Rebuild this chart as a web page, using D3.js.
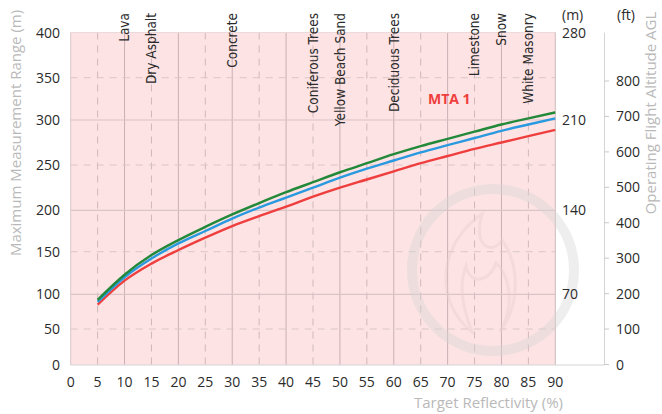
<!DOCTYPE html>
<html>
<head>
<meta charset="utf-8">
<script src="https://cdn.jsdelivr.net/npm/d3@7/dist/d3.min.js"></script>
<style>
  html, body { margin: 0; padding: 0; background: #fff; }
  svg { display: block; font-family: "Open Sans", "DejaVu Sans", sans-serif; }
</style>
</head>
<body>
<svg id="chart" width="662" height="414"></svg>
<script>
// reflectivity (%) sampled every 5
const reflectivity = [5, 10, 15, 20, 25, 30, 35, 40, 45, 50, 55, 60, 65, 70, 75, 80, 85, 90];

// range curves (m)
const rangeGreen = [92, 123, 146, 164, 180, 195, 208, 220, 231, 242, 252, 262, 271, 279, 287, 295, 302, 309];
const rangeBlue  = [89, 120, 142, 160, 175, 190, 203, 214, 225, 236, 246, 255, 264, 272, 280, 288, 295, 302];
const rangeRed   = [85, 116, 136, 152, 167, 181, 193, 204, 215, 225, 234, 243, 252, 260, 268, 275, 282, 289];

// materials marked along the top
const materialNames = ["Lava", "Dry Asphalt", "Concrete", "Coniferous Trees", "Yellow Beach Sand",
  "Deciduous Trees", "Limestone", "Snow", "White Masonry"];
const materialRefl = [10, 15, 30, 45, 50, 60, 75, 80, 85];

// tick labels
const xTicks = d3.range(0, 95, 5);
const yTicks = [0, 50, 100, 150, 200, 250, 300, 350, 400];
const mTicks = [70, 140, 210, 280];
const ftTicks = [0, 100, 200, 300, 400, 500, 600, 700, 800];

const svg = d3.select("#chart");

const x = d3.scaleLinear().domain([0, 90]).range([70.7, 555.3]);
// the original grid is not evenly spaced, so the left scale is piecewise
const y = d3.scaleLinear()
  .domain(yTicks)
  .range([365, 329, 294.3, 251.7, 210.3, 165, 120, 77.7, 32.5]);
const yM = d3.scaleLinear().domain(yTicks.map(v => v * 0.7)).range(y.range());
const yFt = d3.scaleLinear().domain([0, 800]).range([364.5, 81]);

const textDark = "#2b2b2b";
const textGray = "#b9b9b9";

// pink plot background
svg.append("rect")
  .attr("x", x(0)).attr("y", y(400))
  .attr("width", x(90) - x(0)).attr("height", y(0) - y(400))
  .attr("fill", "#fde3e3");

// grid
const grid = svg.append("g");
xTicks.filter(v => v > 0 && v < 90).forEach(v => {
  const solid = v % 10 === 0;
  grid.append("line")
    .attr("x1", x(v)).attr("x2", x(v))
    .attr("y1", y(400)).attr("y2", y(0))
    .attr("stroke", solid ? "#cbb0b5" : "#d0b8bb")
    .attr("stroke-width", 1)
    .attr("stroke-dasharray", solid ? null : "7,6");
});
yTicks.filter(v => v > 0).forEach(v => {
  const solid = v % 100 === 0;
  grid.append("line")
    .attr("x1", x(0)).attr("x2", x(90))
    .attr("y1", y(v)).attr("y2", y(v))
    .attr("stroke", v === 400 ? "#eadadc" : (solid ? "#dac4c7" : "#dac6c8"))
    .attr("stroke-width", solid ? 1.2 : 1)
    .attr("stroke-dasharray", solid ? null : "7,6");
});

// frame
svg.append("line").attr("x1", x(0)).attr("x2", x(0)).attr("y1", y(400)).attr("y2", y(0))
  .attr("stroke", "#d8c8ca");
svg.append("line").attr("x1", x(90)).attr("x2", x(90)).attr("y1", y(400)).attr("y2", y(0))
  .attr("stroke", "#cdb9bc");
svg.append("line").attr("x1", x(0)).attr("x2", 604.5).attr("y1", y(0)).attr("y2", y(0))
  .attr("stroke", "#d4d4d4");

// watermark ring
const mark = svg.append("g").attr("opacity", 0.4);
mark.append("circle")
  .attr("cx", 493).attr("cy", 270).attr("r", 81)
  .attr("fill", "none").attr("stroke", "#d6d6d6").attr("stroke-width", 10);
mark.append("path")
  .attr("d", "M472,332 C432,300 440,242 482,214 C472,246 492,256 502,240 C518,262 522,302 500,332 C518,300 506,272 496,263 C490,282 470,286 466,266 C456,292 468,320 472,332 Z")
  .attr("fill", "none").attr("stroke", "#ebcfd1").attr("stroke-width", 3);

// curves
const line = d3.line()
  .x((d, i) => x(reflectivity[i]))
  .y(d => y(d))
  .curve(d3.curveMonotoneX);

[[rangeRed, "#ef3e3e"], [rangeBlue, "#2a9ae0"], [rangeGreen, "#23893a"]].forEach(([vals, col]) => {
  svg.append("path")
    .datum(vals)
    .attr("d", line)
    .attr("fill", "none")
    .attr("stroke", col)
    .attr("stroke-width", 2.4);
});

// left axis labels
svg.append("g").selectAll("text")
  .data(yTicks).join("text")
  .attr("x", 60).attr("y", d => y(d))
  .attr("dy", "0.36em")
  .attr("text-anchor", "end")
  .attr("font-size", 14)
  .attr("fill", textDark)
  .text(d => d);

// bottom axis labels
svg.append("g").selectAll("text")
  .data(xTicks).join("text")
  .attr("x", d => x(d)).attr("y", 382)
  .attr("dy", "0.36em")
  .attr("text-anchor", "middle")
  .attr("font-size", 14)
  .attr("fill", textDark)
  .text(d => d);

// metres on the right
svg.append("g").selectAll("text")
  .data(mTicks).join("text")
  .attr("x", 562).attr("y", d => yM(d))
  .attr("dy", "0.36em")
  .attr("font-size", 14)
  .attr("fill", textDark)
  .text(d => d);

// feet axis
svg.append("line").attr("x1", 604.5).attr("x2", 604.5).attr("y1", 32.7).attr("y2", y(0))
  .attr("stroke", "#d4d4d4");
const ft = svg.append("g").selectAll("g")
  .data(ftTicks).join("g")
  .attr("transform", d => `translate(0,${yFt(d)})`);
ft.append("line").attr("x1", 604.5).attr("x2", 609).attr("stroke", "#c8c8c8");
ft.append("text")
  .attr("x", 616).attr("dy", "0.36em")
  .attr("font-size", 14)
  .attr("fill", textDark)
  .text(d => d);

// unit headers
svg.append("text").attr("x", 562).attr("y", 20).attr("font-size", 14).attr("fill", textDark).text("(m)");
svg.append("text").attr("x", 617).attr("y", 20).attr("font-size", 14).attr("fill", textDark).text("(ft)");

// axis titles
svg.append("text")
  .attr("transform", "translate(21,133) rotate(-90)")
  .attr("text-anchor", "middle")
  .attr("font-size", 15)
  .attr("fill", textGray)
  .text("Maximum Measurement Range (m)");
svg.append("text")
  .attr("transform", "translate(656,113) rotate(-90)")
  .attr("text-anchor", "middle")
  .attr("font-size", 15)
  .attr("fill", textGray)
  .text("Operating Flight Altitude AGL");
svg.append("text")
  .attr("x", 563).attr("y", 408)
  .attr("text-anchor", "end")
  .attr("font-size", 15)
  .attr("fill", textGray)
  .text("Target Reflectivity (%)");

// material labels
svg.append("g").selectAll("text")
  .data(materialNames).join("text")
  .attr("transform", (d, i) => `translate(${x(materialRefl[i])},13) rotate(-90)`)
  .attr("dy", "0.36em")
  .attr("text-anchor", "end")
  .attr("font-family", "'Liberation Sans Narrow', 'DejaVu Sans Condensed', sans-serif")
  .attr("font-size", 13.5)
  .attr("fill", textDark)
  .text(d => d);

// series tag
svg.append("text")
  .attr("x", 428).attr("y", 104)
  .attr("font-size", 14)
  .attr("font-weight", "bold")
  .attr("fill", "#ef3e3e")
  .text("MTA 1");
</script>
</body>
</html>
